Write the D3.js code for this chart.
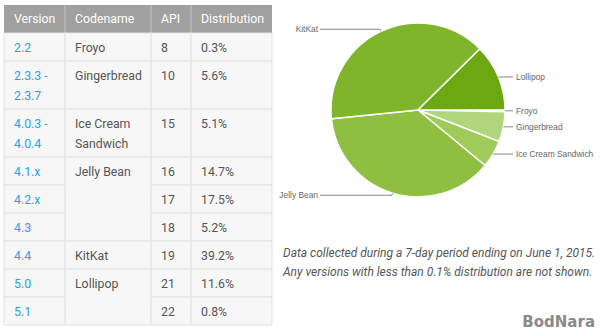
<!DOCTYPE html>
<html><head><meta charset="utf-8">
<script src="https://cdn.jsdelivr.net/npm/d3@7"></script>
<style>
html,body{margin:0;padding:0;background:#fff;}
svg{display:block;}
</style></head>
<body>
<svg id="c" width="600" height="336"></svg>
<script>
// ---- data ----
const headers = ["Version", "Codename", "API", "Distribution"];
const versions = ["2.2", "2.3.3 -\n2.3.7", "4.0.3 -\n4.0.4", "4.1.x", "4.2.x", "4.3", "4.4", "5.0", "5.1"];
const codenames = ["Froyo", "Gingerbread", "Ice Cream\nSandwich", "Jelly Bean", "", "", "KitKat", "Lollipop", ""];
const apis = ["8", "10", "15", "16", "17", "18", "19", "21", "22"];
const distributions = ["0.3%", "5.6%", "5.1%", "14.7%", "17.5%", "5.2%", "39.2%", "11.6%", "0.8%"];

const pieLabels = ["Froyo", "Gingerbread", "Ice Cream Sandwich", "Jelly Bean", "KitKat", "Lollipop"];
const pieValues = [0.3, 5.6, 5.1, 37.4, 39.2, 12.4];
const pieColors = ["#c3e097", "#b0d57a", "#9fcb5a", "#8fbf41", "#7fb52a", "#6ba811"];

const notes = ["Data collected during a 7-day period ending on June 1, 2015.",
               "Any versions with less than 0.1% distribution are not shown."];

// ---- table ----
const svg = d3.select("#c");
const colX = [4, 65, 151, 191, 272];
const tableTop = 5, headH = 28, lineH = 20;
const g = svg.append("g");

// header
g.append("rect").attr("x", colX[0]).attr("y", tableTop).attr("width", colX[4]-colX[0]).attr("height", headH).attr("fill", "#a0a0a0");
headers.forEach((h, i) => {
  if (i > 0) g.append("line").attr("x1", colX[i]).attr("x2", colX[i]).attr("y1", tableTop).attr("y2", tableTop+headH).attr("stroke", "#c4c4c4");
  g.append("text").attr("x", colX[i]+10).attr("y", tableTop+headH/2).attr("dy", "0.36em")
    .attr("font-family", "Roboto").attr("font-size", 12.3).attr("fill", "#fff").text(h);
});

// row geometry
const rows = versions.map((v, i) => {
  const n = Math.max(v.split("\n").length, codenames[i].split("\n").length);
  return {h: 8 + n*lineH};
});
let yy = tableTop + headH;
rows.forEach(r => { r.y = yy; yy += r.h; });

const cellFill = "#f7f7f7", border = "#e2e2e2";
function cell(x0, x1, y0, y1, txt, color) {
  g.append("rect").attr("x", x0).attr("y", y0).attr("width", x1-x0).attr("height", y1-y0)
    .attr("fill", cellFill).attr("stroke", border).attr("stroke-width", 1);
  const t = g.append("text").attr("font-family", "Roboto").attr("font-size", 12.3).attr("fill", color);
  txt.split("\n").forEach((s, k) => {
    t.append("tspan").attr("x", x0+10).attr("y", y0+15+k*lineH).attr("dy", "0.36em").text(s);
  });
}
rows.forEach((r, i) => {
  cell(colX[0], colX[1], r.y, r.y+r.h, versions[i], "#28a2e2");
  cell(colX[2], colX[3], r.y, r.y+r.h, apis[i], "#555");
  cell(colX[3], colX[4], r.y, r.y+r.h, distributions[i], "#555");
  if (codenames[i] !== "") {
    let j = i + 1;
    while (j < rows.length && codenames[j] === "") j++;
    const yEnd = rows[j-1].y + rows[j-1].h;
    cell(colX[1], colX[2], r.y, yEnd, codenames[i], "#555");
  }
});

// ---- pie ----
const cx = 418, cy = 110, R = 87;
const pie = d3.pie().sort(null).value(d => d).startAngle(Math.PI/2).endAngle(Math.PI/2 + 2*Math.PI);
const arcs = pie(pieValues);
const arc = d3.arc().innerRadius(0).outerRadius(R);
const pg = svg.append("g").attr("transform", `translate(${cx},${cy})`);
pg.selectAll("path").data(arcs).join("path")
  .attr("d", arc).attr("fill", (d, i) => pieColors[i])
  .attr("stroke", "#fff").attr("stroke-width", 1.5).attr("stroke-linejoin", "round");

arcs.forEach((a, i) => {
  const mid = (a.startAngle + a.endAngle) / 2;
  const ax = R * Math.sin(mid), ay = -R * Math.cos(mid);
  const right = ax > 0;
  const ly = right ? ay : ay + (ay > 0 ? 2 : -2);
  const ex = right ? 513 - cx : 320 - cx;
  pg.append("polyline")
    .attr("points", `${ax},${ay} ${ax + (right ? 1 : -1)},${ly} ${ex},${ly}`)
    .attr("fill", "none").attr("stroke", "#888").attr("stroke-width", 1);
  pg.append("text").attr("x", right ? ex + 3 : ex - 2).attr("y", ly).attr("dy", "0.35em")
    .attr("text-anchor", right ? "start" : "end")
    .attr("font-family", "Liberation Sans, Arial").attr("font-size", 8.4).attr("fill", "#666")
    .text(pieLabels[i]);
});

// ---- notes ----
notes.forEach((s, i) => {
  svg.append("text").attr("x", 283).attr("y", 253 + i*19).attr("dy", "0.36em")
    .attr("font-family", "Roboto").attr("font-style", "italic").attr("font-size", 12).attr("fill", "#555")
    .text(s);
});

// watermark
svg.append("text").attr("x", 595).attr("y", 322).attr("dy", "0.35em").attr("text-anchor", "end")
  .attr("font-family", "DejaVu Sans").attr("font-weight", "bold").attr("font-size", 15)
  .attr("fill", "#8a8a8a").text("BodNara");
</script>
</body></html>
